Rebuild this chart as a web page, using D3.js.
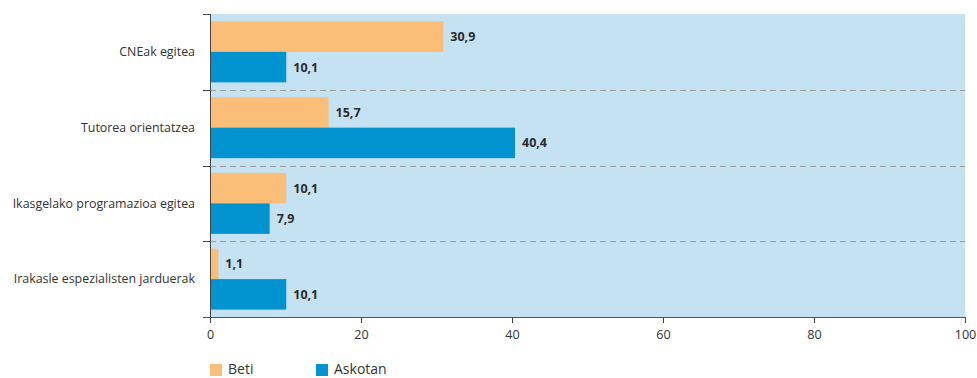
<!DOCTYPE html>
<html><head><meta charset="utf-8">
<script src="https://cdn.jsdelivr.net/npm/d3@7/dist/d3.min.js"></script>
<style>
body{margin:0;background:#fff;}
svg text{font-family:"Open Sans","Noto Sans",sans-serif;}
</style></head>
<body><svg id="c" width="977" height="378"></svg>
<script>
const categories = ["CNEak egitea","Tutorea orientatzea","Ikasgelako programazioa egitea","Irakasle espezialisten jarduerak"];
const seriesNames = ["Beti","Askotan"];
const beti = [30.9, 15.7, 10.1, 1.1];
const askotan = [10.1, 40.4, 7.9, 10.1];
const tickValues = [0,20,40,60,80,100];
const colors = ["#FBBE78","#0093D0"];

const svg = d3.select("#c");
const L=210, R=965, T=14, B=317;
const x = d3.scaleLinear().domain([0,100]).range([L,R]);
const y0 = d3.scaleBand().domain(categories).range([T,B]).paddingInner(0.195).paddingOuter(0.0975);
const y1 = d3.scaleBand().domain(seriesNames).range([0,y0.bandwidth()]);
const fmt = v => d3.format(".1f")(v).replace(".",",");

svg.append("rect").attr("x",L).attr("y",T).attr("width",R-L).attr("height",B-T).attr("fill","#C5E2F3");

// dashed separators
const step = y0.step();
for(let i=1;i<categories.length;i++){
  const yy = Math.round(T + step*i)+0.5;
  svg.append("line").attr("x1",L).attr("x2",R).attr("y1",yy).attr("y2",yy)
    .attr("stroke","#9a9a9a").attr("stroke-width",1).attr("stroke-dasharray","6,4");
}

const data = categories.map((c,i)=>({cat:c, vals:[{s:"Beti",v:beti[i]},{s:"Askotan",v:askotan[i]}]}));
const g = svg.selectAll("g.grp").data(data).join("g").attr("transform",d=>`translate(0,${y0(d.cat)})`);
g.selectAll("rect").data(d=>d.vals).join("rect")
  .attr("x",x(0)).attr("y",d=>y1(d.s)).attr("height",y1.bandwidth())
  .attr("width",d=>x(d.v)-x(0)).attr("fill",(d,i)=>colors[i]);
g.selectAll("text.val").data(d=>d.vals).join("text").attr("class","val")
  .attr("x",d=>x(d.v)+7).attr("y",d=>y1(d.s)+y1.bandwidth()/2).attr("dy","0.36em")
  .attr("font-size","12.5px").attr("font-weight","bold").attr("fill","#2b2b2b")
  .text(d=>fmt(d.v));

// y axis
svg.append("line").attr("x1",L+0.5).attr("x2",L+0.5).attr("y1",T).attr("y2",B+6).attr("stroke","#444");
for(let i=0;i<=categories.length;i++){
  const yy = Math.round(T + step*i)+0.5;
  svg.append("line").attr("x1",L-7).attr("x2",L).attr("y1",yy).attr("y2",yy).attr("stroke","#444");
}
svg.selectAll("text.cat").data(categories).join("text").attr("class","cat")
  .attr("x",195).attr("y",d=>y0(d)+y0.bandwidth()/2).attr("dy","0.35em")
  .attr("text-anchor","end").attr("font-size","12.4px").attr("fill","#333").text(d=>d);

// x axis
const xa = svg.append("g").attr("transform",`translate(0,${B})`)
  .call(d3.axisBottom(x).tickValues(tickValues).tickSize(6).tickPadding(7).tickFormat(d=>d));
xa.select(".domain").remove();
xa.append("line").attr("x1",L-7).attr("x2",R).attr("y1",0.5).attr("y2",0.5).attr("stroke","#555");
xa.selectAll(".tick line").attr("stroke","#444");
xa.selectAll(".tick text").attr("font-size","12.6px").attr("fill","#333").style("font-family",'"Open Sans",sans-serif');

// legend
const leg = svg.append("g").attr("transform","translate(210,364)");
const items = leg.selectAll("g").data(seriesNames).join("g").attr("transform",(d,i)=>`translate(${i*106},0)`);
items.append("rect").attr("width",12).attr("height",12).attr("fill",(d,i)=>colors[i]);
items.append("text").attr("x",18).attr("y",10).attr("font-size","14px").attr("fill","#333").text(d=>d);
</script></body></html>
